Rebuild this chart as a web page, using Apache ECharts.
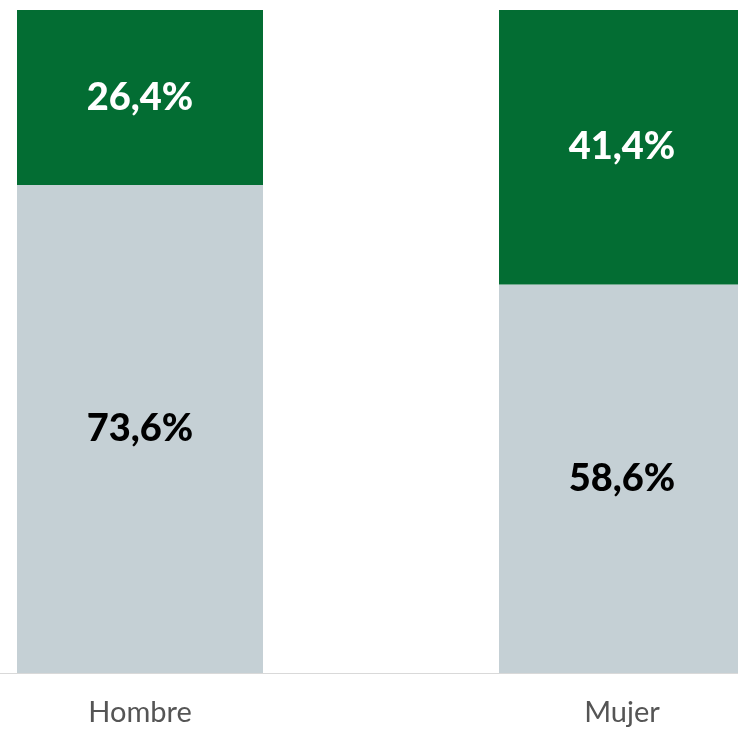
<!DOCTYPE html>
<html>
<head>
<meta charset="utf-8">
<script src="https://cdn.jsdelivr.net/npm/echarts@6/dist/echarts.min.js"></script>
<style>
  html, body { margin: 0; padding: 0; background: #fff; }
  #chart { width: 738px; height: 729px; }
</style>
</head>
<body>
<div id="chart"></div>
<script>
// categorías y porcentajes
const categories = ['Hombre', 'Mujer'];
const grayValues = [73.6, 58.6];
const greenValues = [26.4, 41.4];

const fmt = p => p.value.toFixed(1).replace('.', ',') + '%';

const chart = echarts.init(document.getElementById('chart'), null, { renderer: 'canvas' });

chart.setOption({
    animation: false,
    grid: { left: -101, width: 964, top: 10, bottom: 56, outerBoundsMode: 'none' },
    xAxis: {
        type: 'category',
        data: categories,
        axisTick: { show: false },
        axisLine: { lineStyle: { color: '#d9d9d9', width: 1 } },
        axisLabel: {
            color: '#555555',
            fontFamily: 'Lato',
            fontSize: 29,
            margin: 25
        }
    },
    yAxis: {
        type: 'value',
        min: 0,
        max: 100,
        show: false
    },
    series: [
        {
            type: 'bar',
            stack: 'total',
            data: grayValues,
            barWidth: 246,
            itemStyle: { color: '#c5d0d5' },
            label: {
                show: true,
                position: 'inside',
                formatter: fmt,
                color: '#000',
                fontFamily: 'Lato',
                fontWeight: 900,
                fontSize: 38
            }
        },
        {
            type: 'bar',
            stack: 'total',
            data: greenValues,
            barWidth: 246,
            itemStyle: { color: '#036d33' },
            label: {
                show: true,
                position: 'inside',
                formatter: fmt,
                color: '#fff',
                fontFamily: 'Lato',
                fontWeight: 900,
                fontSize: 38
            }
        }
    ]
});
</script>
</body>
</html>
